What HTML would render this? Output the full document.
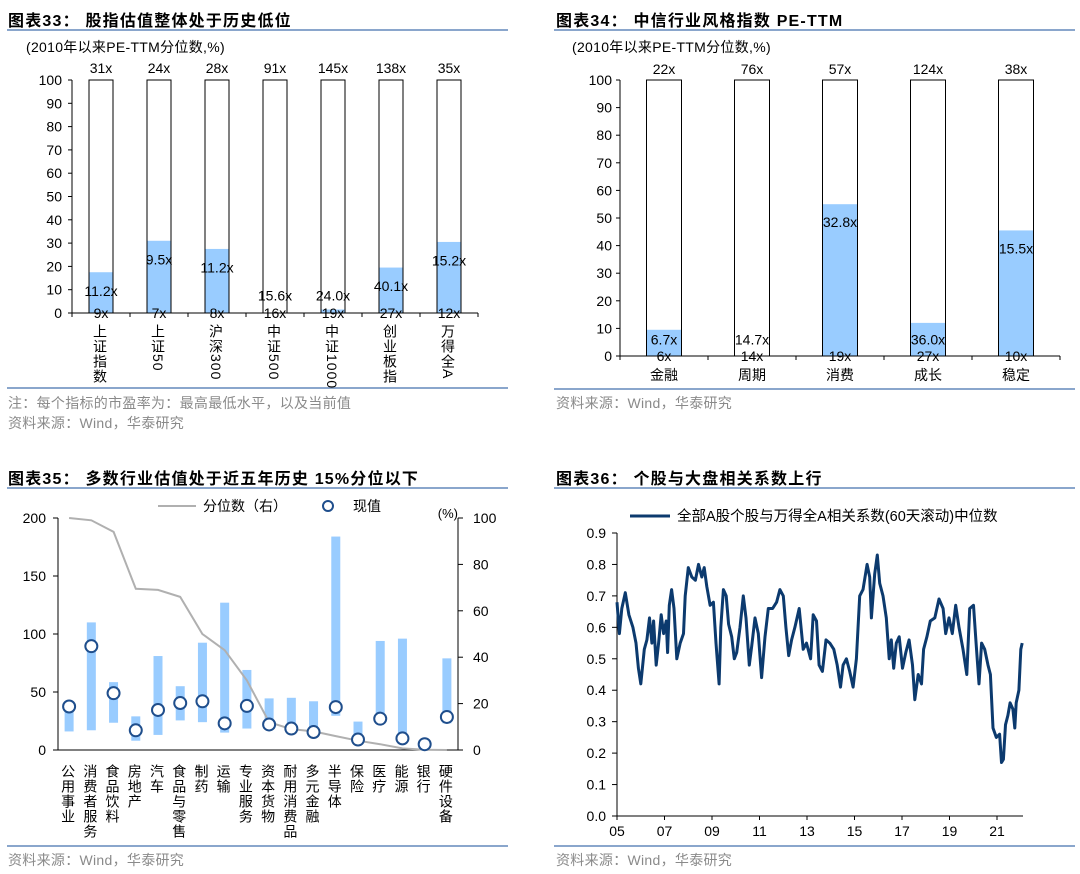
<!DOCTYPE html>
<html><head><meta charset="utf-8">
<style>
body{margin:0;background:#fff;}
#root{position:relative;width:1080px;height:874px;overflow:hidden;font-family:"Liberation Sans","Noto Sans CJK SC",sans-serif;color:#000;}
.t{position:absolute;white-space:nowrap;}
.title{font-size:16px;font-weight:bold;letter-spacing:1.2px;}
.sub{font-size:14px;letter-spacing:0.3px;}
.note{font-size:14px;color:#8a8a8a;letter-spacing:0.3px;}
.hr{position:absolute;height:2px;background:#8aa6cc;}
svg{position:absolute;left:0;top:0;}
.vl{position:absolute;writing-mode:vertical-rl;text-orientation:mixed;font-size:14px;line-height:14px;letter-spacing:1px;}
</style></head><body>
<div id="root">
<div class="t title" style="left:8px;top:7px">图表33： 股指估值整体处于历史低位</div>
<div class="hr" style="left:7px;top:29px;width:501px"></div>
<div class="t sub" style="left:26px;top:37px">(2010年以来PE-TTM分位数,%)</div>
<div class="hr" style="left:7px;top:387px;width:501px"></div>
<div class="t note" style="left:8px;top:393px">注：每个指标的市盈率为：最高最低水平，以及当前值</div>
<div class="t note" style="left:8px;top:413px">资料来源：Wind，华泰研究</div>

<div class="t title" style="left:556px;top:7px">图表34： 中信行业风格指数 PE-TTM</div>
<div class="hr" style="left:554px;top:29px;width:521px"></div>
<div class="t sub" style="left:572px;top:37px">(2010年以来PE-TTM分位数,%)</div>
<div class="hr" style="left:554px;top:388px;width:521px"></div>
<div class="t note" style="left:556px;top:393px">资料来源：Wind，华泰研究</div>

<div class="t title" style="left:8px;top:465px">图表35： 多数行业估值处于近五年历史 15%分位以下</div>
<div class="hr" style="left:7px;top:487px;width:501px"></div>
<div class="hr" style="left:7px;top:845px;width:501px"></div>
<div class="t note" style="left:8px;top:850px">资料来源：Wind，华泰研究</div>

<div class="t title" style="left:556px;top:465px">图表36： 个股与大盘相关系数上行</div>
<div class="hr" style="left:554px;top:487px;width:521px"></div>
<div class="hr" style="left:554px;top:845px;width:521px"></div>
<div class="t note" style="left:556px;top:850px">资料来源：Wind，华泰研究</div>

<svg id="svg33" width="1080" height="874"></svg>
<svg id="svg34" width="1080" height="874"></svg>
<svg id="svg35" width="1080" height="874"></svg>
<svg id="svg36" width="1080" height="874"></svg>
</div>
<script>
var NS="http://www.w3.org/2000/svg";
var root=document.getElementById('root');
function el(svg,tag,a){var e=document.createElementNS(NS,tag);for(var k in a)e.setAttribute(k,a[k]);svg.appendChild(e);return e;}
function txt(svg,x,y,s,anchor,size){var e=el(svg,'text',{x:x,y:y,'text-anchor':anchor||'middle','font-size':size||14,'font-family':'Liberation Sans, Noto Sans CJK SC, sans-serif',fill:'#000'});e.textContent=s;return e;}
function vlabel(x,y,s){var d=document.createElement('div');d.className='vl';d.style.left=(x-8)+'px';d.style.top=y+'px';d.textContent=s;root.appendChild(d);return d;}

/* ---------- Chart 33 ---------- */
var c33Cats=['上证指数','上证50','沪深300','中证500','中证1000','创业板指','万得全A'];
var c33Pct=[17.5,31,27.5,0,1.5,19.5,30.5];
var c33High=['31x','24x','28x','91x','145x','138x','35x'];
var c33Cur=['11.2x','9.5x','11.2x','15.6x','24.0x','40.1x','15.2x'];
var c33Low=['9x','7x','8x','16x','19x','27x','12x'];
var c33Ticks=[0,10,20,30,40,50,60,70,80,90,100];
(function(){
var s=document.getElementById('svg33');
var x0=72,x1=478,y0=313,y100=80;var n=c33Cats.length,bw=(x1-x0)/n;
function Y(v){return y0-(v/100)*(y0-y100);}
function X(i){return x0+bw*(i+0.5);}
var ax=el(s,'line',{x1:x0,y1:y100,x2:x0,y2:y0,stroke:'#000','stroke-width':1});

c33Ticks.forEach(function(t){el(s,'line',{x1:x0-4,x2:x0,y1:Y(t),y2:Y(t),stroke:'#000'});
var l=txt(s,x0-10,Y(t)+5,String(t),'end',14);});
for(var i=0;i<n;i++){
var xc=X(i),w=24;
var o=el(s,'rect',{x:xc-w/2,y:Y(100),width:w,height:Y(0)-Y(100),fill:'#fff',stroke:'#000','stroke-width':1});

var b=el(s,'rect',{x:xc-w/2+0.5,y:Y(c33Pct[i]),width:w-1,height:Y(0)-Y(c33Pct[i]),fill:'#99ccff'});

var a=txt(s,xc,73,c33High[i]);
var m=txt(s,xc,Y(Math.max(c33Pct[i]-8,7.5))+5,c33Cur[i]);
var lw=txt(s,xc,y0+5,c33Low[i]);
var v=vlabel(xc,324,c33Cats[i]);
}
el(s,'line',{x1:x0,x2:x1,y1:y0,y2:y0,stroke:'#000'});
for(var k=0;k<=n;k++)el(s,'line',{x1:x0+bw*k,x2:x0+bw*k,y1:y0,y2:y0+4,stroke:'#000'});
})();

/* ---------- Chart 34 ---------- */
var c34Cats=['金融','周期','消费','成长','稳定'];
var c34Pct=[9.5,0,55,12,45.5];
var c34High=['22x','76x','57x','124x','38x'];
var c34Cur=['6.7x','14.7x','32.8x','36.0x','15.5x'];
var c34Low=['6x','14x','19x','27x','10x'];
var c34Ticks=[0,10,20,30,40,50,60,70,80,90,100];
(function(){
var s=document.getElementById('svg34');
var x0=620,x1=1060,y0=356,y100=80;var n=c34Cats.length,bw=(x1-x0)/n;
function Y(v){return y0-(v/100)*(y0-y100);}
function X(i){return x0+bw*(i+0.5);}
var ax=el(s,'line',{x1:x0,y1:y100,x2:x0,y2:y0,stroke:'#000'});

c34Ticks.forEach(function(t){el(s,'line',{x1:x0-4,x2:x0,y1:Y(t),y2:Y(t),stroke:'#000'});
var l=txt(s,x0-8,Y(t)+5,String(t),'end',14);});
for(var i=0;i<n;i++){
var xc=X(i),w=35;
var o=el(s,'rect',{x:xc-w/2,y:Y(100),width:w,height:Y(0)-Y(100),fill:'#fff',stroke:'#000'});

var b=el(s,'rect',{x:xc-w/2+0.5,y:Y(c34Pct[i]),width:w-1,height:Y(0)-Y(c34Pct[i]),fill:'#99ccff'});

var a=txt(s,xc,74,c34High[i]);
var m=txt(s,xc,Y(Math.max(c34Pct[i]-6.5,6))+5,c34Cur[i]);
var lw=txt(s,xc,y0+5,c34Low[i]);
var c=txt(s,xc,380,c34Cats[i],'middle',14);
}
el(s,'line',{x1:x0,x2:x1,y1:y0,y2:y0,stroke:'#000'});
for(var k=0;k<=n;k++)el(s,'line',{x1:x0+bw*k,x2:x0+bw*k,y1:y0,y2:y0+4,stroke:'#000'});
})();

/* ---------- Chart 35 ---------- */
var c35Cats=['公用事业','消费者服务','食品饮料','房地产','汽车','食品与零售','制药','运输','专业服务','资本货物','耐用消费品','多元金融','半导体','保险','医疗','能源','银行','硬件设备'];
var c35Min=[16,17,23.5,8,13,25.5,24,15,18.5,20,17.5,11,29.5,4.5,23,10,3,23];
var c35Max=[37,110,58.5,29,81,55,92.5,127,69,44.5,45,42,184,24.5,94,96,7,79];
var c35Now=[37.5,89.5,49,17,34.5,40.5,42,23,38,22,18.5,15.5,37,9,27,10,5,28.5];
var c35Pctl=[100,99,94,69.5,69,66,50,43,30,12,9,8,6,4,2.5,0.7,0.1,0];
var c35LeftTicks=[0,50,100,150,200];
var c35RightTicks=[0,20,40,60,80,100];
(function(){
var s=document.getElementById('svg35');
var x0=58,x1=458,y0=750,yt=518;var n=c35Cats.length,bw=(x1-x0)/n;
function YL(v){return y0-(v/200)*(y0-yt);}
function YR(v){return y0-(v/100)*(y0-yt);}
function X(i){return x0+bw*(i+0.5);}
var la=el(s,'line',{x1:x0,y1:yt,x2:x0,y2:y0,stroke:'#000'});
var ra=el(s,'line',{x1:x1,y1:yt,x2:x1,y2:y0,stroke:'#000'});
el(s,'line',{x1:x0,x2:x1,y1:y0,y2:y0,stroke:'#000'});
c35LeftTicks.forEach(function(t){el(s,'line',{x1:x0-5,x2:x0,y1:YL(t),y2:YL(t),stroke:'#000'});
var l=txt(s,x0-12,YL(t)+5,String(t),'end',14);});
c35RightTicks.forEach(function(t){el(s,'line',{x1:x1,x2:x1+5,y1:YR(t),y2:YR(t),stroke:'#000'});
var l=txt(s,x1+15,YR(t)+5,String(t),'start',14);});
var pu=txt(s,458,518,'(%)','end',13);
for(var i=0;i<n;i++){
var b=el(s,'rect',{x:X(i)-4.5,y:YL(c35Max[i]),width:9,height:YL(c35Min[i])-YL(c35Max[i]),fill:'#99ccff'});

}
var d='';for(var j=0;j<n;j++)d+=(j?'L':'M')+X(j).toFixed(1)+','+YR(c35Pctl[j]).toFixed(1);
var p=el(s,'path',{d:d,fill:'none',stroke:'#b0b0b0','stroke-width':2});

for(var i=0;i<n;i++){
var c=el(s,'circle',{cx:X(i),cy:YL(c35Now[i]),r:6,fill:'#fff',stroke:'#1f4e8c','stroke-width':2});

var v=vlabel(X(i),764,c35Cats[i]);
}
var ll=el(s,'line',{x1:158,x2:196,y1:506,y2:506,stroke:'#b0b0b0','stroke-width':2});
var lt=txt(s,203,511,'分位数（右）','start',14);
var lc=el(s,'circle',{cx:328,cy:506,r:5,fill:'#fff',stroke:'#1f4e8c','stroke-width':2});
var lt2=txt(s,353,511,'现值','start',14);
})();

/* ---------- Chart 36 ---------- */
var c36Years=[2005.0,2005.1,2005.2,2005.35,2005.5,2005.67,2005.8,2005.9,2006.0,2006.15,2006.26,2006.37,2006.47,2006.54,2006.65,2006.75,2006.86,2006.96,2007.07,2007.13,2007.2,2007.3,2007.4,2007.52,2007.66,2007.8,2007.87,2008.0,2008.15,2008.3,2008.43,2008.57,2008.67,2008.78,2008.92,2009.06,2009.17,2009.3,2009.37,2009.48,2009.6,2009.7,2009.83,2009.94,2010.04,2010.18,2010.32,2010.43,2010.57,2010.67,2010.81,2010.95,2011.09,2011.23,2011.37,2011.55,2011.72,2011.86,2012.0,2012.11,2012.23,2012.35,2012.49,2012.67,2012.84,2012.98,2013.15,2013.26,2013.4,2013.51,2013.65,2013.8,2013.96,2014.13,2014.27,2014.41,2014.52,2014.66,2014.8,2014.94,2015.08,2015.22,2015.36,2015.53,2015.64,2015.71,2015.85,2015.96,2016.06,2016.2,2016.34,2016.46,2016.55,2016.65,2016.76,2016.88,2017.02,2017.16,2017.3,2017.44,2017.54,2017.68,2017.82,2017.91,2018.05,2018.19,2018.38,2018.56,2018.73,2018.84,2018.98,2019.12,2019.26,2019.4,2019.57,2019.73,2019.85,2020.01,2020.13,2020.24,2020.35,2020.48,2020.62,2020.72,2020.83,2020.97,2021.11,2021.19,2021.27,2021.36,2021.46,2021.55,2021.67,2021.75,2021.81,2021.92,2022.0,2022.06];
var c36Vals=[0.68,0.58,0.66,0.71,0.64,0.60,0.55,0.47,0.42,0.53,0.56,0.63,0.55,0.62,0.48,0.55,0.64,0.58,0.62,0.52,0.67,0.72,0.66,0.50,0.55,0.58,0.70,0.79,0.76,0.75,0.80,0.76,0.79,0.73,0.67,0.68,0.55,0.42,0.60,0.72,0.70,0.61,0.57,0.50,0.52,0.60,0.70,0.63,0.48,0.54,0.63,0.58,0.44,0.57,0.66,0.66,0.68,0.72,0.70,0.60,0.51,0.56,0.60,0.66,0.53,0.55,0.50,0.64,0.62,0.48,0.46,0.56,0.55,0.53,0.48,0.41,0.48,0.50,0.46,0.41,0.50,0.70,0.72,0.80,0.76,0.63,0.77,0.83,0.74,0.70,0.63,0.50,0.56,0.47,0.55,0.57,0.47,0.52,0.56,0.48,0.37,0.45,0.42,0.53,0.57,0.62,0.63,0.69,0.66,0.58,0.63,0.58,0.67,0.60,0.53,0.45,0.66,0.67,0.54,0.42,0.55,0.53,0.48,0.45,0.28,0.25,0.26,0.17,0.18,0.29,0.32,0.36,0.34,0.28,0.36,0.40,0.53,0.55];
var c36YTicks=['0.0','0.1','0.2','0.3','0.4','0.5','0.6','0.7','0.8','0.9'];
var c36XTicks=['05','07','09','11','13','15','17','19','21'];
(function(){
var s=document.getElementById('svg36');
var x0=617,y0=816,y9=533,xEnd=1023;
var pxYear=(997-617)/16;
function X(yr){return x0+(yr-2005)*pxYear;}
function Y(v){return y0-(v/0.9)*(y0-y9);}
var ya=el(s,'line',{x1:x0,y1:y9,x2:x0,y2:y0,stroke:'#000'});
var xa=el(s,'line',{x1:x0,y1:y0,x2:xEnd,y2:y0,stroke:'#000'});
c36YTicks.forEach(function(t){var v=parseFloat(t);el(s,'line',{x1:x0-5,x2:x0,y1:Y(v),y2:Y(v),stroke:'#000'});
var l=txt(s,x0-11,Y(v)+5,t,'end',14);});
c36XTicks.forEach(function(t){var yr=2000+parseInt(t,10);el(s,'line',{x1:X(yr),x2:X(yr),y1:y0,y2:y0+4,stroke:'#000'});
var l=txt(s,X(yr),y0+20,t,'middle',14);});
var d='';for(var i=0;i<c36Years.length;i++)d+=(i?'L':'M')+X(c36Years[i]).toFixed(1)+','+Y(c36Vals[i]).toFixed(1);
var p=el(s,'path',{d:d,fill:'none',stroke:'#0c3a6e','stroke-width':3,'stroke-linejoin':'round'});

var ll=el(s,'line',{x1:630,x2:670,y1:516,y2:516,stroke:'#0c3a6e','stroke-width':3});
var lt=txt(s,677,521,'全部A股个股与万得全A相关系数(60天滚动)中位数','start',14.5);
})();
</script>
</body></html>
